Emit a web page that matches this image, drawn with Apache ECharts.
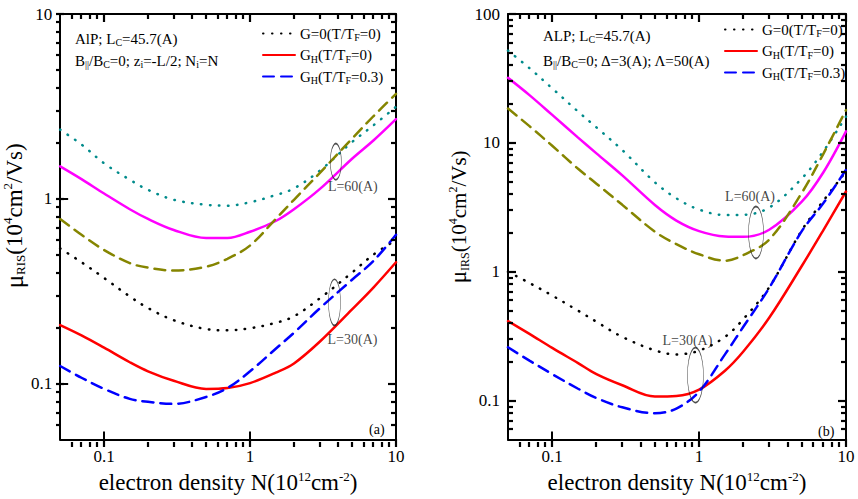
<!DOCTYPE html>
<html>
<head>
<meta charset="utf-8">
<script src="https://cdn.jsdelivr.net/npm/echarts@6/dist/echarts.min.js"></script>
<style>
  html, body { margin: 0; padding: 0; background: #fff; }
  #main { width: 858px; height: 499px; }
</style>
</head>
<body>
<div id="main"></div>
<script>
// electron density N (10^12 cm^-2), shared by every curve
var density = [0.05, 0.07, 0.1, 0.15, 0.2, 0.3, 0.5, 0.7, 1, 1.5, 2, 3, 5, 7, 10];

// panel (a): mu_RIS (10^4 cm^2/Vs)
var risL60G0   = [2.37, 1.97, 1.56, 1.27, 1.12, 0.99, 0.93, 0.92, 0.96, 1.05, 1.14, 1.42, 2.03, 2.5, 3.15];
var risL60GH0  = [1.50, 1.28, 1.07, 0.88, 0.78, 0.68, 0.615, 0.615, 0.665, 0.76, 0.88, 1.13, 1.65, 2.07, 2.7];
var risL60GH03 = [0.78, 0.64, 0.53, 0.45, 0.425, 0.41, 0.43, 0.475, 0.56, 0.78, 0.99, 1.38, 2.12, 2.8, 3.7];
var risL30G0   = [0.54, 0.455, 0.374, 0.297, 0.257, 0.221, 0.198, 0.195, 0.20, 0.214, 0.232, 0.29, 0.40, 0.50, 0.60];
var risL30GH0  = [0.208, 0.183, 0.157, 0.131, 0.117, 0.104, 0.094, 0.095, 0.101, 0.115, 0.129, 0.169, 0.253, 0.332, 0.455];
var risL30GH03 = [0.125, 0.108, 0.094, 0.083, 0.080, 0.078, 0.085, 0.095, 0.117, 0.155, 0.189, 0.256, 0.366, 0.462, 0.64];

// panel (b): mu_IRS (10^4 cm^2/Vs)
var irsL60G0   = [52, 38, 26.5, 17.5, 13.2, 8.8, 4.95, 3.72, 3.04, 2.76, 2.77, 3.15, 5.3, 8.6, 16];
var irsL60GH0  = [32, 23.5, 16.5, 11, 8.3, 5.6, 3.3, 2.5, 2.07, 1.88, 1.87, 2.12, 3.5, 5.9, 12.3];
var irsL60GH03 = [18.5, 13.5, 9.5, 6.3, 4.83, 3.31, 2.05, 1.64, 1.37, 1.22, 1.35, 1.78, 4.1, 8.2, 18];
var irsL30G0   = [1.0, 0.82, 0.655, 0.50, 0.41, 0.313, 0.246, 0.229, 0.245, 0.313, 0.43, 0.76, 2.1, 3.55, 6.0];
var irsL30GH0  = [0.415, 0.33, 0.257, 0.196, 0.161, 0.132, 0.108, 0.109, 0.122, 0.171, 0.241, 0.44, 1.11, 2.1, 4.2];
var irsL30GH03 = [0.26, 0.205, 0.161, 0.124, 0.105, 0.089, 0.080, 0.087, 0.118, 0.229, 0.375, 0.75, 2.07, 3.4, 6.2];

// ticks
var xMajor = [0.1, 1, 10];
var xMinor = [0.06, 0.07, 0.08, 0.09, 0.2, 0.3, 0.4, 0.5, 0.6, 0.7, 0.8, 0.9, 2, 3, 4, 5, 6, 7, 8, 9];
var yMajorA = [0.1, 1, 10];
var yMinorA = [0.06, 0.07, 0.08, 0.09, 0.2, 0.3, 0.4, 0.5, 0.6, 0.7, 0.8, 0.9, 2, 3, 4, 5, 6, 7, 8, 9];
var yMajorB = [0.1, 1, 10, 100];
var yMinorB = yMinorA.concat([20, 30, 40, 50, 60, 70, 80, 90]);

// ellipse markers [N, mu]
var loopA60 = [3.87, 1.59];
var loopA30 = [3.79, 0.276];
var loopB60 = [2.44, 2.02];
var loopB30 = [0.944, 0.158];

var SERIF = 'Liberation Serif';
var GRIDS = [
  { left: 56, top: 14, width: 340, height: 433 },
  { left: 508, top: 14, width: 338, height: 433 }
];
var chart = echarts.init(document.getElementById('main'), null, { renderer: 'svg' });

function fmt(v) { return String(+(+v).toPrecision(3)); }

function nameRich(size) {
  return {
    t: { fontFamily: SERIF, fontSize: size, color: '#000', lineHeight: size + 3 },
    mu: { fontFamily: SERIF, fontSize: size + 2, color: '#000', lineHeight: size + 3 },
    sup: { fontFamily: SERIF, fontSize: Math.round(size * 0.56), color: '#000', lineHeight: 12, verticalAlign: 'top' },
    sub: { fontFamily: SERIF, fontSize: Math.round(size * 0.56), color: '#000', lineHeight: 10, verticalAlign: 'bottom' }
  };
}

// one axis on each side of a grid: the first carries labels and the name
function makeAxes(grid, min, max, major, pos, opp, name, nameGap, namePad, nameSize) {
  return [pos, opp].map(function (p, k) {
    return {
      gridIndex: grid, type: 'log', logBase: 10, min: min, max: max, position: p,
      axisLine: { show: true, onZero: false, lineStyle: { color: '#000', width: 2 } },
      axisTick: { show: true, inside: true, length: 8, customValues: major, lineStyle: { color: '#000', width: 2 } },
      axisLabel: k === 0 ? { show: true, customValues: major, formatter: fmt, fontFamily: SERIF, fontSize: 17, color: '#000', margin: 8 } : { show: false },
      splitLine: { show: false },
      name: k === 0 ? name : '',
      nameLocation: 'middle',
      nameGap: nameGap,
      nameTextStyle: { padding: namePad, rich: nameRich(nameSize) }
    };
  });
}

var xName = '{t|electron density N(10}{sup|12}{t|cm}{sup|-2}{t|)}';
var xAxes = makeAxes(0, 0.05, 10, xMajor, 'bottom', 'top', xName, 23, 0, 23)
  .concat(makeAxes(1, 0.05, 10, xMajor, 'bottom', 'top', xName, 23, 0, 23));
var yAxes = makeAxes(0, 0.05, 10, yMajorA, 'left', 'right',
    '{mu|μ}{sub|RIS}{t|(10}{sup|4}{t|cm}{sup|2}{t|/Vs)}', 13, [0, 0, 0, 22], 23)
  .concat(makeAxes(1, 0.05, 100, yMajorB, 'left', 'right',
    '{mu|μ}{sub|IRS}{t|(10}{sup|4}{t|cm}{sup|2}{t|/Vs)}', 25, [0, 0, 0, 20], 21));

var NAME_G0 = 'G=0(T/TF=0)';
var NAME_GH0 = 'GH(T/TF=0)';
var NAME_GH03 = 'GH(T/TF=0.3)';
var legendText = {};
legendText[NAME_G0] = '{t|G=0(T/T}{s|F}{t|=0)}';
legendText[NAME_GH0] = '{t|G}{s|H}{t|(T/T}{s|F}{t|=0)}';
legendText[NAME_GH03] = '{t|G}{s|H}{t|(T/T}{s|F}{t|=0.3)}';

var DOT = [0.5, 8.5];
var DASH = [11, 7];

function line(name, axis, values, color, type) {
  return {
    name: name, type: 'line', xAxisIndex: axis, yAxisIndex: axis,
    data: density.map(function (n, i) { return [n, values[i]]; }),
    showSymbol: false, symbol: 'none', smooth: 0.35, silent: true,
    lineStyle: { color: color, width: 2.5, type: type, cap: 'round' },
    itemStyle: { color: color }
  };
}

function loop(axis, pos, size, text, labelPos, offset) {
  return {
    type: 'scatter', xAxisIndex: axis, yAxisIndex: axis, silent: true, z: 5,
    data: [pos], symbol: 'circle', symbolSize: size,
    itemStyle: { color: 'rgba(0,0,0,0)', borderColor: '#222', borderWidth: 1 },
    label: { show: true, formatter: text, position: labelPos, distance: 3, offset: offset,
      fontFamily: SERIF, fontSize: 14, color: '#111' }
  };
}

var series = [
  line('L60 G0 a', 0, risL60G0, '#008b8b', DOT),
  line('L60 GH0 a', 0, risL60GH0, '#ff00ff', 'solid'),
  line('L60 GH03 a', 0, risL60GH03, '#858500', DASH),
  line(NAME_G0, 0, risL30G0, '#000000', DOT),
  line(NAME_GH0, 0, risL30GH0, '#ff0000', 'solid'),
  line(NAME_GH03, 0, risL30GH03, '#0000ff', DASH),
  line('L60 G0 b', 2, irsL60G0, '#008b8b', DOT),
  line('L60 GH0 b', 2, irsL60GH0, '#ff00ff', 'solid'),
  line('L60 GH03 b', 2, irsL60GH03, '#858500', DASH),
  line(NAME_G0, 2, irsL30G0, '#000000', DOT),
  line(NAME_GH0, 2, irsL30GH0, '#ff0000', 'solid'),
  line(NAME_GH03, 2, irsL30GH03, '#0000ff', DASH),
  loop(0, loopA60, [11, 36], 'L=60(A)', 'bottom', [17, -4]),
  loop(0, loopA30, [12, 46], 'L=30(A)', 'bottom', [18, 3]),
  loop(2, loopB60, [15, 52], 'L=60(A)', 'top', [-6, 1]),
  loop(2, loopB30, [16, 55], 'L=30(A)', 'top', [-8, 4])
];

function legendAt(left, top) {
  return {
    data: [NAME_G0, NAME_GH0, NAME_GH03], orient: 'vertical', left: left, top: top,
    itemWidth: 32, itemHeight: 12, itemGap: 5, padding: 0, selectedMode: false,
    itemStyle: { opacity: 0 },
    formatter: function (n) { return legendText[n]; },
    textStyle: {
      rich: {
        t: { fontFamily: SERIF, fontSize: 15, color: '#000', lineHeight: 18 },
        s: { fontFamily: SERIF, fontSize: 10, color: '#000', lineHeight: 8, verticalAlign: 'bottom' }
      }
    }
  };
}

var noteRich = {
  t: { fontFamily: SERIF, fontSize: 15, fill: '#000', lineHeight: 18 },
  s: { fontFamily: SERIF, fontSize: 10, fill: '#000', lineHeight: 8, verticalAlign: 'bottom' }
};
function note(left, top, text) {
  return { type: 'text', left: left, top: top, silent: true,
    style: { text: text, rich: noteRich, fontFamily: SERIF, fontSize: 15, fill: '#000' } };
}

var notes = [
  note(75, 31, '{t|AlP; L}{s|C}{t|=45.7(A)}'),
  note(75, 53, '{t|B}{s|||}{t|/B}{s|C}{t|=0; z}{s|i}{t|=-L/2; N}{s|i}{t|=N}'),
  note(543, 28, '{t|ALP; L}{s|C}{t|=45.7(A)}'),
  note(543, 53, '{t|B}{s|||}{t|/B}{s|C}{t|=0; Δ=3(A); Λ=50(A)}'),
  { type: 'text', left: 369, top: 422, style: { text: '(a)', fontFamily: SERIF, fontSize: 14, fill: '#000' } },
  { type: 'text', left: 818, top: 424, style: { text: '(b)', fontFamily: SERIF, fontSize: 14, fill: '#000' } }
];

chart.setOption({
  animation: false,
  grid: GRIDS,
  xAxis: xAxes,
  yAxis: yAxes,
  legend: [legendAt(262, 26), legendAt(724, 22)],
  series: series,
  graphic: notes
});

// inward ticks on all four sides; the position along each axis comes from
// that axis' own log scale (convertToPixel), the frame edges from the grid box
var MAJOR_LEN = 8, MINOR_LEN = 5, TICK_W = 2.2;
function ticksFor(gi, axis, yMajor, yMinor) {
  var g = GRIDS[gi], out = [];
  var x0 = g.left, x1 = g.left + g.width, y0 = g.top, y1 = g.top + g.height;
  function seg(a, b, c, d) {
    out.push({ type: 'line', silent: true, z: 100,
      shape: { x1: a, y1: b, x2: c, y2: d }, style: { stroke: '#000', lineWidth: TICK_W } });
  }
  function xt(v, len) {
    var px = Math.round(chart.convertToPixel({ xAxisIndex: axis }, v));
    seg(px, y1, px, y1 - len); seg(px, y0, px, y0 + len);
  }
  function yt(v, len) {
    var py = Math.round(chart.convertToPixel({ yAxisIndex: axis }, v));
    seg(x0, py, x0 + len, py); seg(x1, py, x1 - len, py);
  }
  xMajor.forEach(function (v) { xt(v, MAJOR_LEN); });
  xMinor.forEach(function (v) { xt(v, MINOR_LEN); });
  yMajor.forEach(function (v) { yt(v, MAJOR_LEN); });
  yMinor.forEach(function (v) { yt(v, MINOR_LEN); });
  return out;
}

chart.setOption({
  graphic: notes.concat(ticksFor(0, 0, yMajorA, yMinorA), ticksFor(1, 2, yMajorB, yMinorB))
});
</script>
</body>
</html>
